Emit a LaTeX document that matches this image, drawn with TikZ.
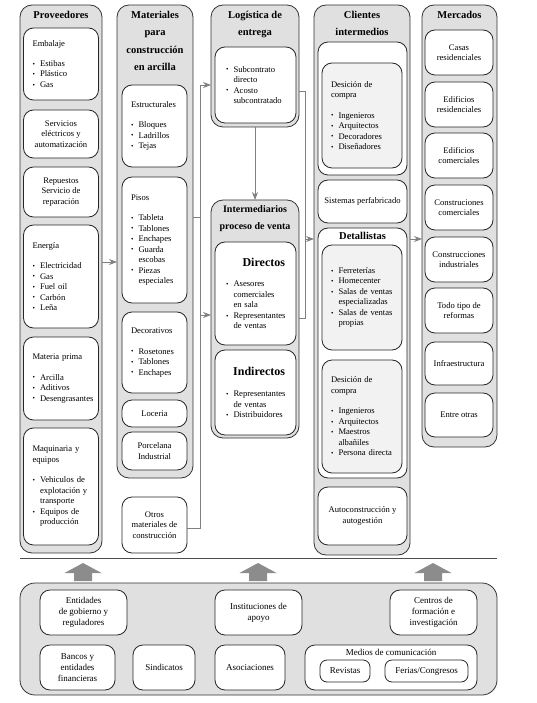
\documentclass[tikz,border=0pt]{standalone}
\usepackage{fontspec}
\setmainfont{Liberation Serif}
\usetikzlibrary{arrows.meta}
\hyphenpenalty=10000
\exhyphenpenalty=10000
\newcommand\bul{\makebox[7.5pt][l]{\raisebox{0.3pt}{\fontsize{7}{7}\selectfont\textbullet}}}
\newcommand\ind{\hspace*{7.5pt}}
\begin{document}
\begin{tikzpicture}[x=1pt,y=-1pt,
 every node/.style={outer sep=0pt, font=\fontsize{8.6}{10.5}\selectfont},
 col/.style={draw=black!80, fill=black!12, rounded corners=12pt, line width=0.8pt, anchor=north west, inner sep=0pt},
 wbox/.style={draw=black!85, fill=white, rounded corners=10pt, line width=0.8pt, anchor=north west, inner sep=0pt, align=center},
 lbox/.style={wbox, align=left, inner xsep=9pt},
 head/.style={font=\fontsize{10.5}{17.5}\selectfont\bfseries, align=center, anchor=north, inner sep=0pt},
 bot/.style={wbox, font=\fontsize{9}{11}\selectfont},
 conn/.style={draw=black!50, line width=0.9pt},
 arr/.style={conn, -{Stealth[length=8pt,width=6pt]}},
]
\useasboundingbox (0,0) rectangle (537,703);

% ---------- Proveedores
\node[col, minimum width=82pt, minimum height=548pt] (prov) at (20,5) {};
\node[head] (provh) at (61,11) {Proveedores};
\node[lbox, text width=57pt, minimum height=72pt] (emb) at (23.5,28) {Embalaje\\[9.5pt]\bul Estibas\\\bul Plástico\\\bul Gas};
\node[wbox, minimum width=75pt, minimum height=48pt] (serv) at (23.5,110) {Servicios\\eléctricos y\\automatización};
\node[wbox, minimum width=75pt, minimum height=50pt] (rep) at (23.5,167) {Repuestos\\Servicio de\\reparación};
\node[lbox, text width=57pt, minimum height=103pt] (ener) at (23.5,225) {Energía\\[10pt]\bul Electricidad\\\bul Gas\\\bul Fuel oil\\\bul Carbón\\\bul Leña};
\node[lbox, text width=57pt, minimum height=83pt] (matp) at (23.5,337) {Materia prima\\[10pt]\bul Arcilla\\\bul Aditivos\\\bul Desengrasantes};
\node[lbox, text width=57pt, minimum height=117pt] (maq) at (23.5,428) {Maquinaria y\\equipos\\[10pt]\bul Vehiculos de\\\ind explotación y\\\ind transporte\\\bul Equipos de\\\ind producción};

% ---------- Materiales
\node[col, minimum width=76pt, minimum height=473pt] (mat) at (117,5) {};
\node[head] (math) at (155,11) {Materiales\\para\\construcción\\en arcilla};
\node[lbox, text width=47pt, minimum height=82pt] (est) at (122,85) {Estructurales\\[9.5pt]\bul Bloques\\\bul Ladrillos\\\bul Tejas};
\node[lbox, text width=47pt, minimum height=126pt] (pis) at (122,177) {Pisos\\[10pt]\bul Tableta\\\bul Tablones\\\bul Enchapes\\\bul Guarda\\\ind escobas\\\bul Piezas\\\ind especiales};
\node[lbox, text width=47pt, minimum height=81pt] (dec) at (122,312) {Decorativos\\[10pt]\bul Rosetones\\\bul Tablones\\\bul Enchapes};
\node[wbox, minimum width=65pt, minimum height=27pt] (loc) at (122,400) {Loceria};
\node[wbox, minimum width=65pt, minimum height=38pt] (porc) at (122,432) {Porcelana\\Industrial};
\node[wbox, minimum width=65pt, minimum height=56pt] (otros) at (122,497) {Otros\\materiales de\\construcción};

% ---------- Logistica
\node[col, minimum width=88pt, minimum height=122pt] (log) at (211,5) {};
\node[head] (logh) at (255,11) {Logística de\\entrega};
\node[lbox, inner xsep=11pt, text width=59pt, minimum height=76pt] (logi) at (215,47) {\bul Subcontrato\\\ind directo\\\bul Acosto\\\ind subcontratado};

% ---------- Intermediarios
\node[col, minimum width=88pt, minimum height=238pt] (inter) at (211,200) {};
\node[head, font=\fontsize{10}{17}\selectfont\bfseries] (interh) at (255,206) {Intermediarios\\proceso de venta};
\node[lbox, inner xsep=11pt, text width=59pt, minimum height=103pt] (dir) at (215,242) {\hspace*{\fill}{\fontsize{12}{14}\selectfont\bfseries Directos}\hspace*{\fill}\\[10pt]\bul Asesores\\\ind comerciales\\\ind en sala\\\bul Representantes\\\ind de ventas};
\node[lbox, inner xsep=11pt, text width=59pt, minimum height=85pt] (indir) at (215,350) {\hspace*{\fill}{\fontsize{12}{14}\selectfont\bfseries Indirectos}\hspace*{\fill}\\[11pt]\bul Representantes\\\ind de ventas\\\bul Distribuidores};

% ---------- Clientes intermedios
\node[col, minimum width=96pt, minimum height=550pt] (cli) at (314,5) {};
\node[head] (clih) at (362,11) {Clientes\\intermedios};
\node[wbox, minimum width=89pt, minimum height=133pt] (clitop) at (318,42) {};
\node[lbox, fill=black!5, text width=62pt, minimum height=105pt] (dc1) at (322,63) {Desición de\\compra\\[10pt]\bul Ingenieros\\\bul Arquitectos\\\bul Decoradores\\\bul Diseñadores};
\node[wbox, minimum width=89pt, minimum height=43pt] (sis) at (318,180) {Sistemas perfabricado};
\node[wbox, minimum width=89pt, minimum height=250pt] (det) at (318,228) {};
\node[head] (deth) at (362.5,232) {Detallistas};
\node[lbox, fill=black!5, text width=62pt, minimum height=105pt] (ventas) at (322,245) {\bul Ferreterías\\\bul Homecenter\\\bul Salas de ventas\\\ind especializadas\\\bul Salas de ventas\\\ind propias};
\node[lbox, fill=black!5, text width=62pt, minimum height=113pt] (dc2) at (322,360) {Desición de\\compra\\[10pt]\bul Ingenieros\\\bul Arquitectos\\\bul Maestros\\\ind albañiles\\\bul Persona directa};
\node[wbox, minimum width=89pt, minimum height=58pt] (auto) at (318,487) {Autoconstrucción y\\autogestión};

% ---------- Mercados
\node[col, minimum width=75pt, minimum height=442pt] (mer) at (422,5) {};
\node[head] (merh) at (459.5,11) {Mercados};
\node[wbox, minimum width=68pt, minimum height=45pt] (m1) at (425,30) {Casas\\residenciales};
\node[wbox, minimum width=68pt, minimum height=45pt] (m2) at (425,82) {Edificios\\residenciales};
\node[wbox, minimum width=68pt, minimum height=45pt] (m3) at (425,133) {Edificios\\comerciales};
\node[wbox, minimum width=68pt, minimum height=45pt] (m4) at (425,185) {Construciones\\comerciales};
\node[wbox, minimum width=68pt, minimum height=45pt] (m5) at (425,237) {Construcciones\\industriales};
\node[wbox, minimum width=68pt, minimum height=45pt] (m6) at (425,288) {Todo tipo de\\reformas};
\node[wbox, minimum width=68pt, minimum height=43pt] (m7) at (425,342) {Infraestructura};
\node[wbox, minimum width=68pt, minimum height=44pt] (m8) at (425,393) {Entre otras};

% ---------- connectors
\coordinate (a1) at (110,262);
\draw[arr] (prov.east |- a1) -- (mat.west |- a1);
\coordinate (jt) at (200,85);
\coordinate (jm) at (200,217);
\coordinate (ji) at (200,315);
\coordinate (jb) at (200,528);
\draw[conn] (mat.east |- jm) -- (jm);
\draw[conn] (otros.east |- jb) -- (jb) -- (jt);
\draw[arr] (jt) -- (log.west |- jt);
\draw[arr] (ji) -- (inter.west |- ji);
\coordinate (kt) at (305,91);
\coordinate (kb) at (305,318);
\coordinate (km) at (305,239);
\draw[conn] (log.east |- kt) -- (kt) -- (kb) -- (inter.east |- kb);
\draw[arr] (km) -- (cli.west |- km);
\draw[arr] (cli.east |- km) -- (mer.west |- km);
\draw[arr] (log.south) -- (inter.north);

% ---------- separator and block arrows
\draw[black!70, line width=0.8pt] (20,558) -- (497,558);
\foreach \cx in {83,258,433}
  \fill[black!45] (\cx,563) -- (\cx+18.5,573) -- (\cx+9,573) -- (\cx+9,581) -- (\cx-9,581) -- (\cx-9,573) -- (\cx-18.5,573) -- cycle;

% ---------- bottom panel
\node[col, rounded corners=15pt, minimum width=477pt, minimum height=112pt] (panel) at (20,583) {};
\node[bot, minimum width=87pt, minimum height=45pt] (ent) at (40,590) {Entidades\\de gobierno y\\reguladores};
\node[bot, minimum width=87pt, minimum height=45pt] (inst) at (215,590) {Instituciones de\\apoyo};
\node[bot, minimum width=87pt, minimum height=45pt] (cen) at (390,590) {Centros de\\formación e\\investigación};
\node[bot, minimum width=75pt, minimum height=45pt] (ban) at (40,645) {Bancos y\\entidades\\financieras};
\node[bot, minimum width=62pt, minimum height=45pt] (sind) at (133,645) {Sindicatos};
\node[bot, minimum width=70pt, minimum height=45pt] (asoc) at (215,645) {Asociaciones};
\node[bot, minimum width=172pt, minimum height=45pt] (med) at (305,645) {};
\node[font=\fontsize{9}{11}\selectfont, inner sep=0pt] (medl) at (391,652) {Medios de comunicación};
\node[bot, rounded corners=7pt, minimum width=50pt, minimum height=22pt] (rev) at (320,660) {Revistas};
\node[bot, rounded corners=7pt, minimum width=83pt, minimum height=22pt] (fer) at (385,660) {Ferias/Congresos};
\end{tikzpicture}
\end{document}
